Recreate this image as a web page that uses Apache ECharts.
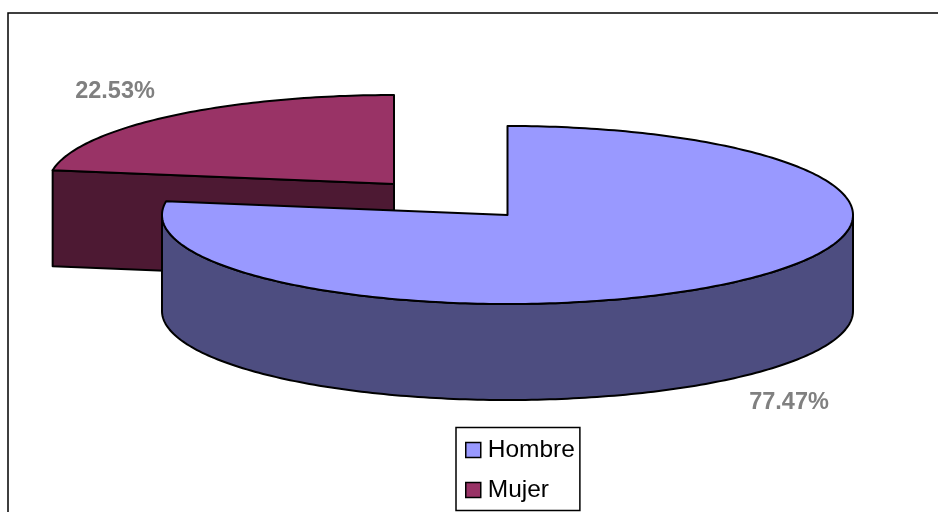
<!DOCTYPE html>
<html><head><meta charset="utf-8">
<style>html,body{margin:0;padding:0;background:#fff}#c{width:938px;height:512px}</style>
<script src="https://cdn.jsdelivr.net/npm/echarts@6/dist/echarts.min.js"></script>
</head><body><div id="c"></div>
<script>
const categories = ['Hombre', 'Mujer'];
const shares = [77.47, 22.53];
const topColors = ['#9999ff', '#993366'];
const sideColors = ['#4d4d80', '#4d1933'];

const radiusX = 345.5, radiusY = 89, depth = 96;
const centers = [[507.5, 215], [394, 184]];
const labelSpots = [[789, 402.5], [115, 91.5]];

const total = shares.reduce((a, b) => a + b, 0);
const chart = echarts.init(document.getElementById('c'));

function pieSlice(index) {
  return function (params, api) {
    const v = api.value(0);
    let before = 0;
    for (let i = 0; i < index; i++) before += shares[i];
    const a0 = before / total * 360, a1 = (before + v) / total * 360;
    const [cx, cy] = centers[index];
    const pt = (deg, dy) => {
      const r = deg * Math.PI / 180;
      return [cx + radiusX * Math.sin(r), cy - radiusY * Math.cos(r) + (dy || 0)];
    };
    const edge = { stroke: '#000', lineWidth: 2, lineJoin: 'round' };
    const children = [];
    const r0 = Math.max(a0, 90), r1 = Math.min(a1, 270);
    if (r1 > r0) {
      const pts = [];
      for (let d = r0; d <= r1; d += 1) pts.push(pt(d));
      for (let d = r1; d >= r0; d -= 1) pts.push(pt(d, depth));
      children.push({ type: 'polygon', shape: { points: pts },
        style: Object.assign({ fill: sideColors[index] }, edge) });
    }
    if (a0 > 270) {
      const e = pt(a0);
      children.push({ type: 'polygon',
        shape: { points: [e, [cx, cy], [cx, cy + depth], [e[0], e[1] + depth]] },
        style: Object.assign({ fill: sideColors[index] }, edge) });
    }
    const top = [[cx, cy]];
    for (let d = a0; d < a1; d += 1) top.push(pt(d));
    top.push(pt(a1));
    children.push({ type: 'polygon', shape: { points: top },
      style: Object.assign({ fill: topColors[index] }, edge) });
    children.push({ type: 'text',
      style: { text: v.toFixed(2) + '%', x: labelSpots[index][0], y: labelSpots[index][1],
        fill: '#808080', font: 'bold 23.5px "Liberation Sans", Arial, sans-serif',
        textAlign: 'center', textVerticalAlign: 'middle' } });
    return { type: 'group', children };
  };
}

const order = [1, 0];
chart.setOption({
  animation: false,
  backgroundColor: '#fff',
  graphic: [{ type: 'polyline', silent: true, z: -1,
    shape: { points: [[8, 512], [8, 13], [938, 13]] },
    style: { stroke: '#000', lineWidth: 1.5, fill: null } }],
  legend: {
    data: categories, orient: 'vertical', left: 456, top: 427.5,
    padding: [10, 5, 8, 9], itemGap: 15, itemWidth: 15, itemHeight: 15,
    icon: 'rect', backgroundColor: '#fff', borderColor: '#000', borderWidth: 1.5,
    selectedMode: false,
    itemStyle: { borderColor: '#000', borderWidth: 1.5 },
    textStyle: { fontFamily: '"Liberation Sans", Arial, sans-serif', fontSize: 24.5, color: '#000', padding: [3, 0, 0, 2] }
  },
  series: order.map(i => ({
    type: 'custom', name: categories[i], coordinateSystem: 'none', silent: true,
    itemStyle: { color: topColors[i] },
    renderItem: pieSlice(i), data: [[shares[i]]], clip: false
  }))
});
</script></body></html>
